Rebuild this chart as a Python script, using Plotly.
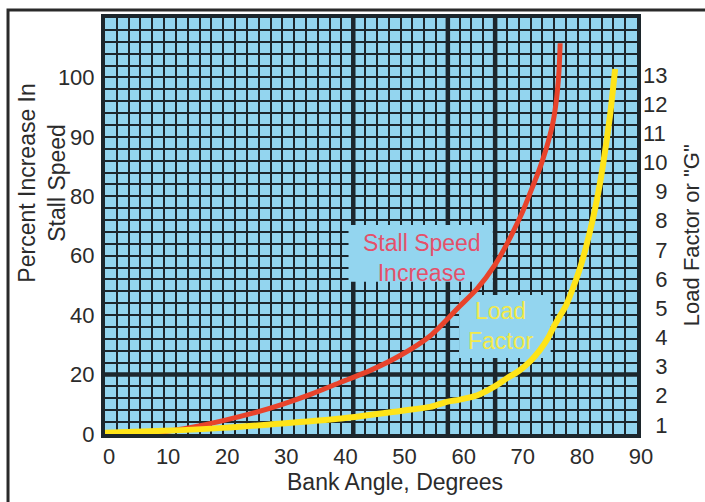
import plotly.graph_objects as go

# ---- data ----
bank_stall = [0, 5, 10, 15, 20, 25, 30, 35, 40, 45, 50, 55, 60, 63, 66, 68, 70, 71, 72, 73, 74, 75, 75.8, 76.4, 76.8, 77]
stall_units = [0.3, 0.4, 0.8, 2.4, 4.5, 7, 10, 13.5, 17.5, 21.5, 26.5, 33, 43, 49, 57, 64, 72, 76.5, 81.5, 86.5, 92, 98.5, 105, 113, 122, 131.5]

bank_load = [0, 10, 20, 30, 40, 50, 55, 58, 60, 63, 66, 68, 70, 72, 73.5, 75, 76, 77, 78, 79, 80.4, 82, 83.2, 84.2, 85.4, 86.3]
load_factor = [0.73, 0.8, 0.9, 1.05, 1.22, 1.48, 1.62, 1.8, 1.87, 2.02, 2.33, 2.6, 2.85, 3.2, 3.55, 4.0, 4.4, 4.75, 5.1, 5.6, 6.4, 7.6, 8.7, 9.85, 11.55, 13.2]

x_ticks = [0, 10, 20, 30, 40, 50, 60, 70, 80, 90]
left_tickvals = [0, 20, 40, 60, 80, 100, 120]
left_ticktext = ["0", "20", "40", "60", "80", "90", "100"]
right_tickvals = list(range(1, 14))
right_ticktext = [("\u2007" + str(v)) if v < 10 else str(v) for v in right_tickvals]

thick_x = [42, 58, 66]
thick_y = [20]

BG = "#93d5ef"
GRID = "#1c262c"
FONT = "Liberation Sans, Arial, sans-serif"
TXT = "#2b2b2b"

fig = go.Figure()
fig.add_trace(go.Scatter(x=bank_stall, y=stall_units, mode="lines",
                         line=dict(color="#e8432b", width=5, shape="spline", smoothing=0.8),
                         hoverinfo="skip", showlegend=False))
fig.add_trace(go.Scatter(x=bank_load, y=load_factor, mode="lines", yaxis="y2",
                         line=dict(color="#ffe418", width=6, shape="spline", smoothing=0.8),
                         hoverinfo="skip", showlegend=False))

shapes = []
for xv in thick_x:
    shapes.append(dict(type="line", xref="x", yref="paper", x0=xv, x1=xv, y0=0, y1=1,
                       line=dict(color=GRID, width=4.5), layer="below"))
for yv in thick_y:
    shapes.append(dict(type="line", xref="paper", yref="y", x0=0, x1=1, y0=yv, y1=yv,
                       line=dict(color=GRID, width=4.5), layer="below"))
# label boxes covering the grid
shapes.append(dict(type="rect", xref="x", yref="y", x0=41.2, x1=65.6, y0=51.2, y1=70.3,
                   fillcolor=BG, line=dict(width=0), layer="between"))
shapes.append(dict(type="rect", xref="x", yref="y", x0=59.9, x1=75.4, y0=25.6, y1=46.8,
                   fillcolor=BG, line=dict(width=0), layer="between"))
# outer frame
shapes.append(dict(type="rect", xref="paper", yref="paper", x0=-0.1823, x1=1.2, y0=-0.3, y1=1.0192,
                   line=dict(color="#2a2a2a", width=3), fillcolor="rgba(0,0,0,0)", layer="above"))

annotations = [
    dict(x=53.6, y=59.4, xref="x", yref="y", text="Stall Speed<br>Increase", showarrow=False,
         font=dict(family=FONT, size=23, color="#e5506a"), align="center"),
    dict(x=67.0, y=36.5, xref="x", yref="y", text="Load<br>Factor", showarrow=False,
         font=dict(family=FONT, size=23, color="#f3ea4a"), align="center"),
    dict(x=-0.1175, y=0.603, xref="paper", yref="paper", text="Percent Increase In<br>Stall Speed",
         showarrow=False, textangle=-90, xanchor="center", yanchor="middle",
         font=dict(family=FONT, size=23, color=TXT), align="center"),
    dict(x=1.1015, y=0.478, xref="paper", yref="paper", text='Load Factor or "G"',
         showarrow=False, textangle=-90, xanchor="center", yanchor="middle",
         font=dict(family=FONT, size=22, color=TXT)),
    dict(x=0.545, y=-0.115, xref="paper", yref="paper", text="Bank Angle, Degrees",
         showarrow=False, xanchor="center", yanchor="middle",
         font=dict(family=FONT, size=23, color=TXT)),
]

fig.update_layout(
    width=705, height=502,
    margin=dict(l=105, r=68, t=18, b=68),
    paper_bgcolor="white", plot_bgcolor=BG,
    showlegend=False,
    font=dict(family=FONT, size=22, color=TXT),
    xaxis=dict(range=[0, 90], tickmode="array", tickvals=x_ticks,
               showgrid=True, gridcolor=GRID, gridwidth=2,
               minor=dict(tickmode="linear", tick0=0, dtick=2, showgrid=True,
                          gridcolor=GRID, gridwidth=2, ticks=""),
               ticks="", ticklabelshift=4,
               showline=True, linecolor=GRID, linewidth=4, mirror=True,
               zeroline=False, tickfont=dict(size=22, color=TXT), fixedrange=True,
               automargin=False),
    yaxis=dict(range=[0, 140], tickmode="array", tickvals=left_tickvals, ticktext=left_ticktext,
               showgrid=True, gridcolor=GRID, gridwidth=2,
               minor=dict(tickmode="linear", tick0=0, dtick=4, showgrid=True,
                          gridcolor=GRID, gridwidth=2, ticks=""),
               ticks="", showline=True, linecolor=GRID, linewidth=4, mirror=True,
               zeroline=False, tickfont=dict(size=22, color=TXT), ticklabelstandoff=2,
               fixedrange=True, automargin=False),
    yaxis2=dict(range=[0.69, 14.95], overlaying="y", side="right", tickmode="array",
                tickvals=right_tickvals, ticktext=right_ticktext, showgrid=False, ticks="",
                showline=False, zeroline=False, tickfont=dict(size=22, color=TXT),
                ticklabelstandoff=5, fixedrange=True, automargin=False),
    shapes=shapes,
    annotations=annotations,
)

fig.write_html("out.html", config={"displayModeBar": False, "displaylogo": False},
               post_script="document.body.style.margin='0';")
